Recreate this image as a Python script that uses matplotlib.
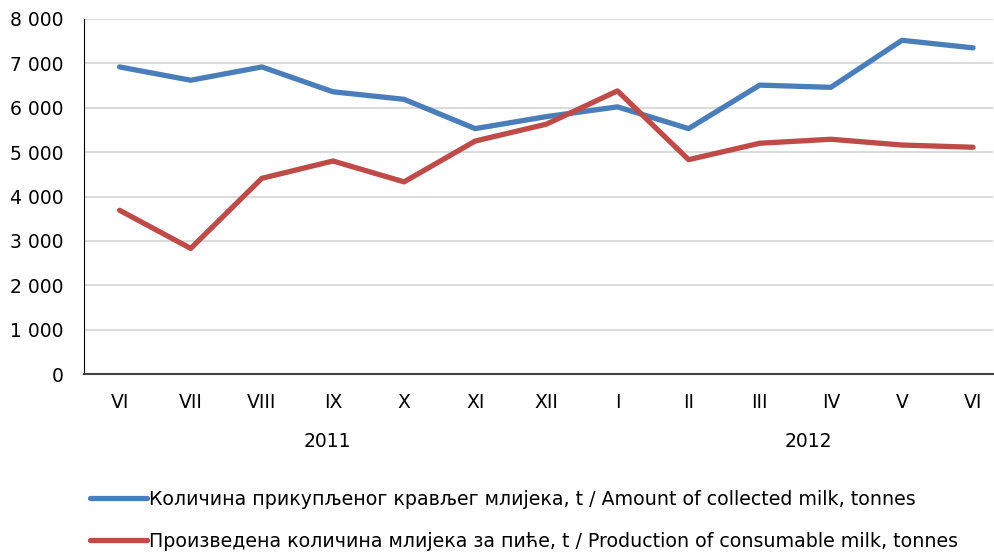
"""Milk collection vs consumable milk production, VI 2011 - VI 2012."""

import matplotlib.pyplot as plt

months = ["VI", "VII", "VIII", "IX", "X", "XI", "XII", "I", "II", "III", "IV", "V", "VI"]
years = ["2011", "2012"]
collected = [6920, 6620, 6920, 6360, 6190, 5530, 5800, 6020, 5530, 6510, 6460, 7520, 7350]
consumable = [3690, 2830, 4410, 4800, 4330, 5250, 5630, 6380, 4830, 5200, 5290, 5160, 5110]
labels = [
    "Количина прикупљеног крављег млијека, t / Amount of collected milk, tonnes",
    "Произведена количина млијека за пиће, t / Production of consumable milk, tonnes",
]

plt.rcParams["font.family"] = ["DejaVu Sans"]

fig = plt.figure(figsize=(9.95, 5.53), dpi=100)
ax = fig.add_axes([84 / 995, 1 - 374 / 553, (993 - 84) / 995, 355 / 553])

x = range(len(months))
ax.plot(x, collected, color="#4a7ebb", linewidth=3.8, label=labels[0], solid_capstyle="round")
ax.plot(x, consumable, color="#be4b48", linewidth=3.8, label=labels[1], solid_capstyle="round")

ax.set_xlim(-0.5, 12.28)
ax.set_ylim(0, 8000)
ax.set_yticks(range(0, 8001, 1000))
ax.set_yticklabels([f"{v:,}".replace(",", " ") for v in range(0, 8001, 1000)], fontsize=13.5)
ax.set_xticks(list(x))
ax.set_xticklabels(months, fontsize=13.5)
ax.tick_params(axis="x", length=0, pad=14)
ax.tick_params(axis="y", length=0, pad=15)

ax.grid(axis="y", color="#d4d4d4", linewidth=1.2)
ax.set_axisbelow(True)
for side in ["top", "right"]:
    ax.spines[side].set_visible(False)
ax.spines["left"].set_color("black")
ax.spines["bottom"].set_color("#404040")
ax.spines["bottom"].set_linewidth(1.5)

# year labels under the month ticks
for pos, yr in zip([2.92, 9.68], years):
    ax.text(pos, -1520, yr, ha="center", va="center", fontsize=13.5, clip_on=False)

fig.legend(loc="upper left", bbox_to_anchor=(90 / 995, 1 - 490 / 553), frameon=False,
           fontsize=13.7, handlelength=3.0, handletextpad=0.1, labelspacing=1.2,
           borderaxespad=0, borderpad=0)

plt.savefig("out.png", dpi=100)
plt.close()
